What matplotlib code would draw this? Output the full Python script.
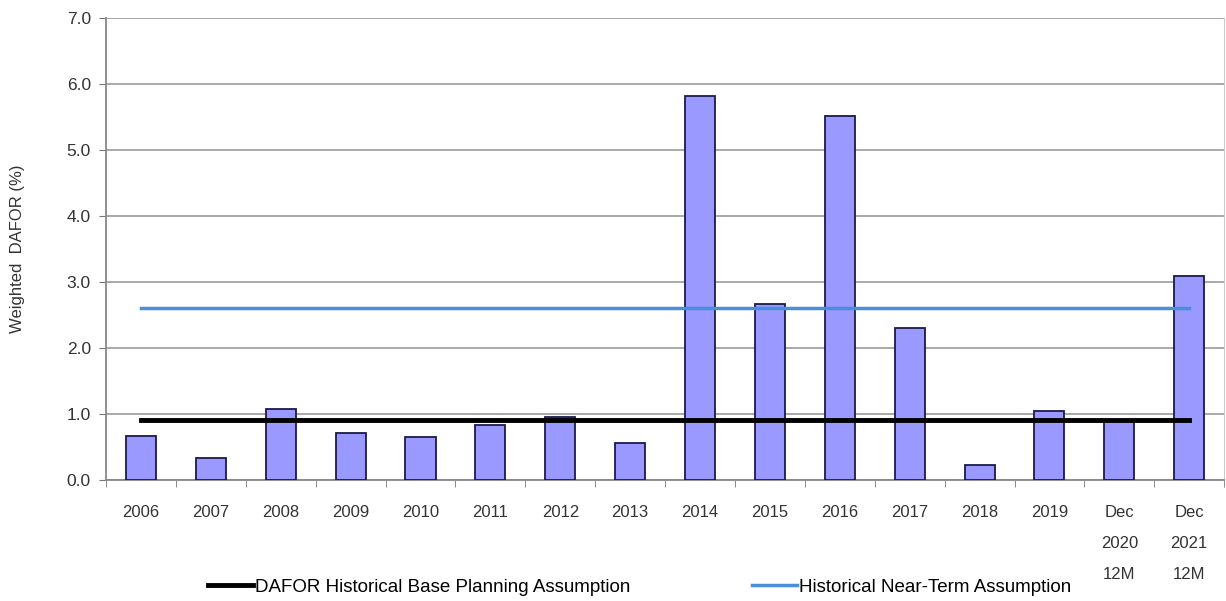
import numpy as np
import matplotlib
matplotlib.use("Agg")
import matplotlib.pyplot as plt
from matplotlib.lines import Line2D

plt.rcParams['font.family'] = ['Liberation Sans', 'DejaVu Sans']

# data
categories = ['2006', '2007', '2008', '2009', '2010', '2011', '2012', '2013',
              '2014', '2015', '2016', '2017', '2018', '2019',
              'Dec\n2020\n12M', 'Dec\n2021\n12M']
dafor = [0.67, 0.33, 1.07, 0.71, 0.65, 0.83, 0.95, 0.56,
         5.82, 2.67, 5.52, 2.30, 0.22, 1.05, 0.91, 3.09]
base_assumption = 0.91
near_term_assumption = 2.60

fig = plt.figure(figsize=(12.26, 6.01), dpi=100)
ax = fig.add_axes([0.0865, 0.2013, 0.9120, 0.7687])

x = np.arange(len(categories))
ax.bar(x, dafor, width=0.43, color='#9999FF', edgecolor='#1a1a4a', linewidth=1.3, zorder=3)

ax.plot([x[0], x[-1]], [base_assumption] * 2, color='black', linewidth=3.5, zorder=4)
ax.plot([x[0], x[-1]], [near_term_assumption] * 2, color='#4a90d9', linewidth=2.5, zorder=4)

ax.set_xlim(-0.5, len(categories) - 0.5)
ax.set_ylim(0, 7)
yt = np.arange(0, 7.1, 1.0)
ax.set_yticks(yt)
ax.set_yticklabels(['%.1f' % v for v in yt], fontsize=12.5, color='#333333')
ax.yaxis.grid(True, color='#9a9a9a', linewidth=1.2, zorder=0)

ax.set_xticks(x)
ax.set_xticklabels(categories, fontsize=12, color='#333333', linespacing=2.35, va='top')
ax.tick_params(axis='x', length=0, pad=18)
ax.set_xticks(np.arange(-0.5, len(categories), 1.0), minor=True)
ax.tick_params(axis='x', which='minor', length=5, color='#777777', direction='out')
ax.tick_params(axis='y', length=5, color='#777777', direction='out', pad=6)

for side in ['left', 'bottom']:
    ax.spines[side].set_color('#888888')
    ax.spines[side].set_linewidth(1.3)
ax.spines['top'].set_visible(False)
ax.spines['right'].set_color('#cccccc')

ax.set_ylabel('Weighted  DAFOR (%)', fontsize=12, color='#333333', labelpad=30)

handles = [Line2D([0], [0], color='black', linewidth=3.5),
           Line2D([0], [0], color='#4a90d9', linewidth=2.5)]
fig.legend(handles, ['DAFOR Historical Base Planning Assumption', 'Historical Near-Term Assumption'],
           loc='center', bbox_to_anchor=(0.522, 0.023), ncol=2, frameon=False,
           fontsize=13.5, handlelength=2.4, handletextpad=0.1, columnspacing=6.5,
           borderpad=0)

fig.savefig('out.png', dpi=100)
